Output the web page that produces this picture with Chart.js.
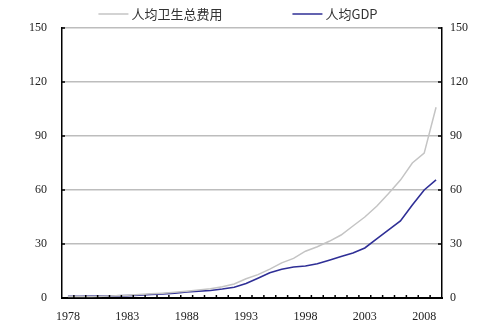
<!DOCTYPE html>
<html>
<head>
<meta charset="utf-8">
<script src="https://cdn.jsdelivr.net/npm/chart.js"></script>
<style>
  body { margin: 0; background: #fff; }
  #wrap { width: 488px; height: 332px; }
</style>
</head>
<body>
<div id="wrap"><canvas id="spend" width="488" height="332"></canvas></div>
<script>
const years = ['1978','1979','1980','1981','1982','1983','1984','1985','1986','1987',
  '1988','1989','1990','1991','1992','1993','1994','1995','1996','1997','1998',
  '1999','2000','2001','2002','2003','2004','2005','2006','2007','2008','2009'];

// 人均卫生总费用
const healthSpend = [0.8, 0.8, 0.9, 1.0, 1.2, 1.5, 2.0, 2.3, 2.7, 3.2, 3.8, 4.5, 5.2, 6.3,
  7.8, 10.7, 13, 16, 19.5, 22, 26, 28.5, 31.5, 35, 40, 45, 51, 58, 65.5, 75, 80.5, 106];

// 人均GDP
const gdpPerCapita = [1.0, 1.0, 1.1, 1.1, 1.2, 1.3, 1.5, 2.0, 2.3, 2.7, 3.3, 3.8, 4.2, 5.0,
  6.0, 8.0, 11, 14, 16, 17.2, 17.8, 19, 21, 23, 25, 27.8, 32.8, 37.8, 42.8, 51.7, 60, 65.6];

const yTicks = [0, 30, 60, 90, 120, 150];
const labelEvery = 5;

const tickFont = { family: 'Liberation Serif', size: 12 };

// small inward tick marks on all three axes
const tickMarks = {
  id: 'tickMarks',
  afterDraw(chart) {
    const ctx = chart.ctx;
    const x = chart.scales.x, yl = chart.scales.y, yr = chart.scales.y2;
    const area = chart.chartArea;
    ctx.save();
    ctx.strokeStyle = '#000';
    ctx.lineWidth = 1.5;
    ctx.beginPath();
    yTicks.forEach(v => {
      const py = yl.getPixelForValue(v);
      ctx.moveTo(area.left, py); ctx.lineTo(area.left + 3, py);
      const pr = yr.getPixelForValue(v);
      ctx.moveTo(area.right, pr); ctx.lineTo(area.right - 4, pr);
    });
    for (let i = 1; i < years.length; i++) {
      const px = (x.getPixelForTick(i - 1) + x.getPixelForTick(i)) / 2;
      ctx.moveTo(px, area.bottom); ctx.lineTo(px, area.bottom - 3);
    }
    ctx.stroke();
    ctx.restore();
  }
};

// legend row above the plot, wide gap between the two entries
const lineLegend = {
  id: 'lineLegend',
  afterDraw(chart) {
    const ctx = chart.ctx;
    const sw = 30, gapText = 3, gapItem = 70, cy = 14;
    ctx.save();
    ctx.font = '13px "Noto Sans CJK SC"';
    ctx.textBaseline = 'middle';
    const items = chart.data.datasets.map(d => ({
      text: d.label, color: d.borderColor, w: sw + gapText + ctx.measureText(d.label).width
    }));
    const total = items.reduce((s, it) => s + it.w, 0) + gapItem * (items.length - 1);
    let x = 238 - total / 2;
    items.forEach(it => {
      ctx.strokeStyle = it.color;
      ctx.lineWidth = 1.5;
      ctx.beginPath();
      ctx.moveTo(x, cy); ctx.lineTo(x + sw, cy);
      ctx.stroke();
      ctx.fillStyle = '#333';
      ctx.fillText(it.text, x + sw + gapText, cy);
      x += it.w + gapItem;
    });
    ctx.restore();
  }
};

new Chart(document.getElementById('spend'), {
  type: 'line',
  data: {
    labels: years,
    datasets: [
      {
        label: '人均卫生总费用',
        data: healthSpend,
        borderColor: '#c4c4c4',
        backgroundColor: '#c4c4c4',
        borderWidth: 1.5,
        pointRadius: 0,
        tension: 0,
        yAxisID: 'y'
      },
      {
        label: '人均GDP',
        data: gdpPerCapita,
        borderColor: '#2f2f96',
        backgroundColor: '#2f2f96',
        borderWidth: 1.6,
        pointRadius: 0,
        tension: 0,
        yAxisID: 'y'
      }
    ]
  },
  options: {
    responsive: false,
    animation: false,
    layout: { padding: { top: 28, bottom: 0, left: 0, right: 0 } },
    plugins: {
      tooltip: { enabled: false },
      legend: { display: false }
    },
    scales: {
      x: {
        type: 'category',
        offset: true,
        grid: { display: false, drawTicks: false },
        border: { color: '#000', width: 2 },
        afterFit(s) { s.height = 34; },
        ticks: {
          autoSkip: false,
          maxRotation: 0,
          padding: 12,
          color: '#222',
          font: tickFont,
          callback(v, i) { return i % labelEvery === 0 ? years[i] : ''; }
        }
      },
      y: {
        position: 'left',
        min: 0, max: 150,
        afterBuildTicks(s) { s.ticks = yTicks.map(v => ({ value: v })); },
        afterFit(s) { s.width = 62; },
        grid: {
          color: c => c.tick.value === 0 ? 'rgba(0,0,0,0)' : '#bdbdbd',
          lineWidth: 1.5,
          drawTicks: false
        },
        border: { color: '#000', width: 1.5 },
        ticks: { padding: 15, color: '#222', font: tickFont }
      },
      y2: {
        position: 'right',
        min: 0, max: 150,
        afterBuildTicks(s) { s.ticks = yTicks.map(v => ({ value: v })); },
        afterFit(s) { s.width = 46; },
        grid: { display: false, drawTicks: false },
        border: { color: '#000', width: 1.5 },
        ticks: { padding: 8, color: '#222', font: tickFont }
      }
    }
  },
  plugins: [tickMarks, lineLegend]
});
</script>
</body>
</html>
